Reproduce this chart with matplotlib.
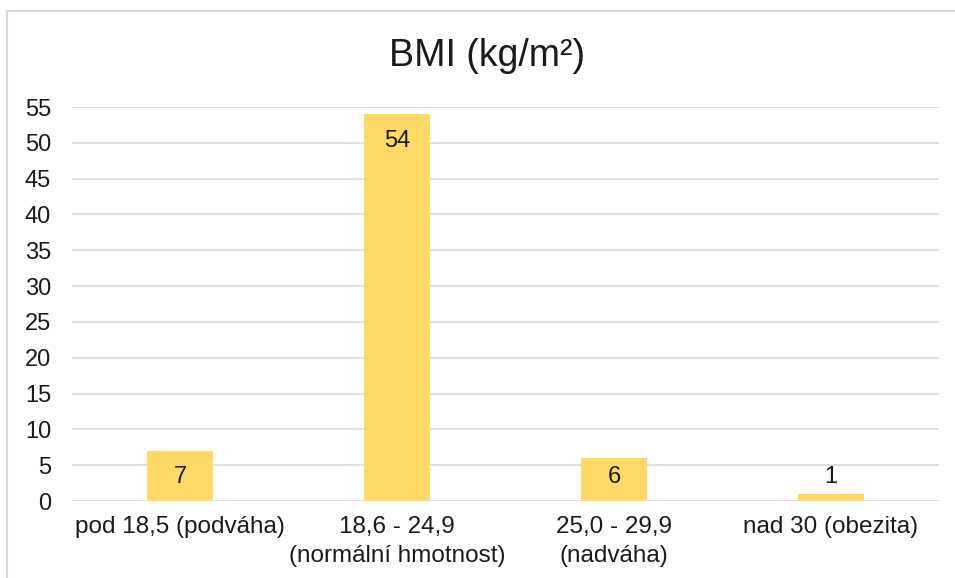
import matplotlib
matplotlib.use("Agg")
import matplotlib.pyplot as plt
from matplotlib.lines import Line2D

plt.rcParams['font.family'] = ['Liberation Sans', 'DejaVu Sans']

categories = ["pod 18,5 (podváha)", "18,6 - 24,9\n(normální hmotnost)",
              "25,0 - 29,9\n(nadváha)", "nad 30 (obezita)"]
values = [7, 54, 6, 1]
yticks = list(range(0, 56, 5))
title = "BMI (kg/m²)"

W, H = 955, 578
fig = plt.figure(figsize=(W / 100, H / 100), dpi=100)
ax = fig.add_axes([72 / W, (H - 501) / H, (939 - 72) / W, (501 - 107) / H])

x = list(range(len(categories)))
ax.bar(x, values, width=0.305, color="#FFD966", zorder=3)
ax.set_xlim(-0.5, len(categories) - 0.5)
ax.set_ylim(0, 55)
ax.set_yticks(yticks)
ax.set_xticks(x)
ax.set_xticklabels(categories, fontsize=17.5, color="#1a1a1a", linespacing=1.38,
                   va="top")
ax.tick_params(axis="y", length=0, pad=15, labelsize=17, labelcolor="#1a1a1a")
ax.tick_params(axis="x", length=0, pad=11)
ax.grid(axis="y", color="#d9d9d9", linewidth=1.2, zorder=0)
for s in ax.spines.values():
    s.set_visible(False)

for xi, v in zip(x, values):
    ax.text(xi, max(v - 3.8, 3.4), str(v), ha="center", va="center",
            fontsize=17, color="#1a1a1a", zorder=4)

fig.text(487 / W, 1 - 56 / H, title, ha="center", va="center", fontsize=27,
         color="#1a1a1a")

# chart-area border (top and left visible)
fig.add_artist(Line2D([7 / W, 1], [1 - 11 / H, 1 - 11 / H], color="#d9d9d9",
                      linewidth=1.5, transform=fig.transFigure))
fig.add_artist(Line2D([7 / W, 7 / W], [0, 1 - 11 / H], color="#d9d9d9",
                      linewidth=1.5, transform=fig.transFigure))

fig.savefig("out.png", dpi=100)
